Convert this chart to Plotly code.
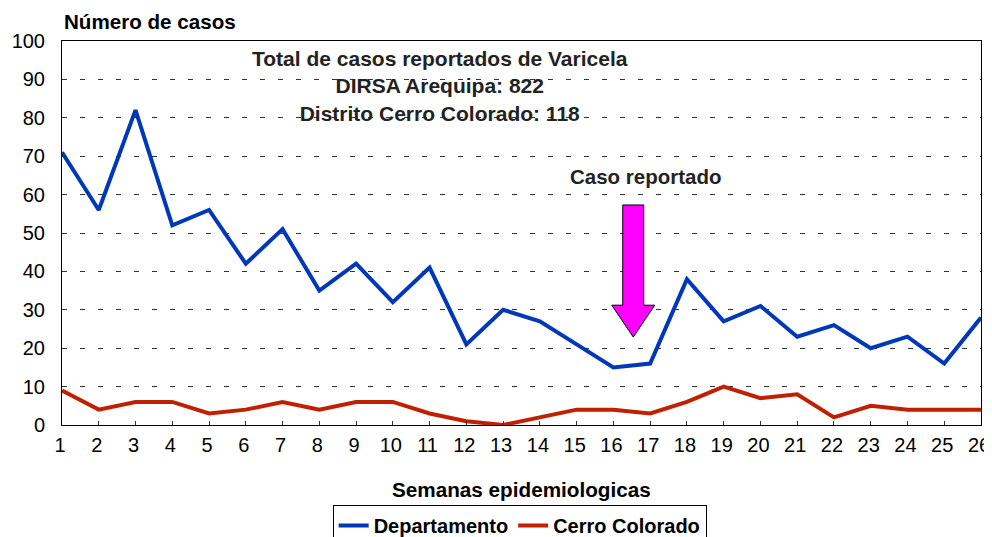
import plotly.graph_objects as go

semanas = list(range(1, 27))
departamento = [71, 56, 82, 52, 56, 42, 51, 35, 42, 32, 41, 21, 30, 27, 21, 15, 16, 38, 27, 31, 23, 26, 20, 23, 16, 28]
cerro_colorado = [9, 4, 6, 6, 3, 4, 6, 4, 6, 6, 3, 1, 0, 2, 4, 4, 3, 6, 10, 7, 8, 2, 5, 4, 4, 4]
y_ticks = list(range(0, 101, 10))

# arrow annotation geometry (data units)
arrow_x = 16.54
arrow_top = 57.3
arrow_head_base = 31.2
arrow_tip = 22.9
shaft_half = 0.286
head_half = 0.585

fig = go.Figure()
fig.add_trace(go.Scatter(x=semanas, y=departamento, mode="lines", name="Departamento",
                         line=dict(color="#0038B8", width=4)))
fig.add_trace(go.Scatter(x=semanas, y=cerro_colorado, mode="lines", name="Cerro Colorado",
                         line=dict(color="#C02000", width=4)))

path = (f"M {arrow_x - shaft_half} {arrow_top} L {arrow_x + shaft_half} {arrow_top} "
        f"L {arrow_x + shaft_half} {arrow_head_base} L {arrow_x + head_half} {arrow_head_base} "
        f"L {arrow_x} {arrow_tip} L {arrow_x - head_half} {arrow_head_base} "
        f"L {arrow_x - shaft_half} {arrow_head_base} Z")
fig.add_shape(type="path", path=path, xref="x", yref="y",
              fillcolor="#FF00FF", line=dict(color="black", width=1))

font_main = "Liberation Sans, Arial, sans-serif"
fig.add_annotation(x=0.411, xref="paper", y=88.3, yref="y",
                   text="<b>Total de casos reportados de Varicela<br>DIRSA Arequipa: 822<br>Distrito Cerro Colorado: 118</b>",
                   showarrow=False, align="center", yanchor="middle",
                   font=dict(family=font_main, size=21, color="#222222"))
fig.add_annotation(x=16.88, xref="x", y=64.8, yref="y", text="<b>Caso reportado</b>",
                   showarrow=False, yanchor="middle",
                   font=dict(family=font_main, size=20.5, color="#222222"))
fig.add_annotation(x=0, xref="paper", y=1.051, yref="paper", text="<b>Número de casos</b>",
                   showarrow=False, xanchor="left", yanchor="middle",
                   font=dict(family=font_main, size=20.6, color="black"))
fig.add_annotation(x=0.5, xref="paper", y=-0.169, yref="paper", text="<b>Semanas epidemiologicas</b>",
                   showarrow=False, xanchor="center", yanchor="middle",
                   font=dict(family=font_main, size=20.7, color="black"))

fig.update_layout(
    width=984, height=529,
    margin=dict(l=54, r=11, t=33, b=112, autoexpand=False),
    paper_bgcolor="white", plot_bgcolor="white",
    font=dict(family=font_main, size=20, color="black"),
    showlegend=True,
    legend=dict(orientation="h", x=0.498, xanchor="center", y=1 - 497 / 529, yanchor="top",
                yref="container",
                bordercolor="black", borderwidth=1, font=dict(size=20, color="black", weight="bold"),
                itemwidth=30, tracegroupgap=0),
    xaxis=dict(range=[1, 26], tickmode="array", tickvals=semanas, ticktext=[str(s) for s in semanas],
               showgrid=False, zeroline=False, showline=True, linecolor="black", linewidth=1,
               mirror=True, ticks="inside", ticklen=4, tickcolor="#333333", automargin=False,
               ticklabelstandoff=2, ticklabelshift=-2, tickfont=dict(size=20)),
    yaxis=dict(range=[0, 100], tickmode="array", tickvals=y_ticks, ticktext=[str(v) for v in y_ticks],
               showgrid=True, gridcolor="#333333", griddash="5px,13px", gridwidth=1,
               zeroline=False, showline=True, linecolor="black", linewidth=1, mirror=True,
               ticks="inside", ticklen=4, tickcolor="#333333", automargin=False,
               ticklabelstandoff=12, tickfont=dict(size=20)),
)

fig.write_html("out.html")
